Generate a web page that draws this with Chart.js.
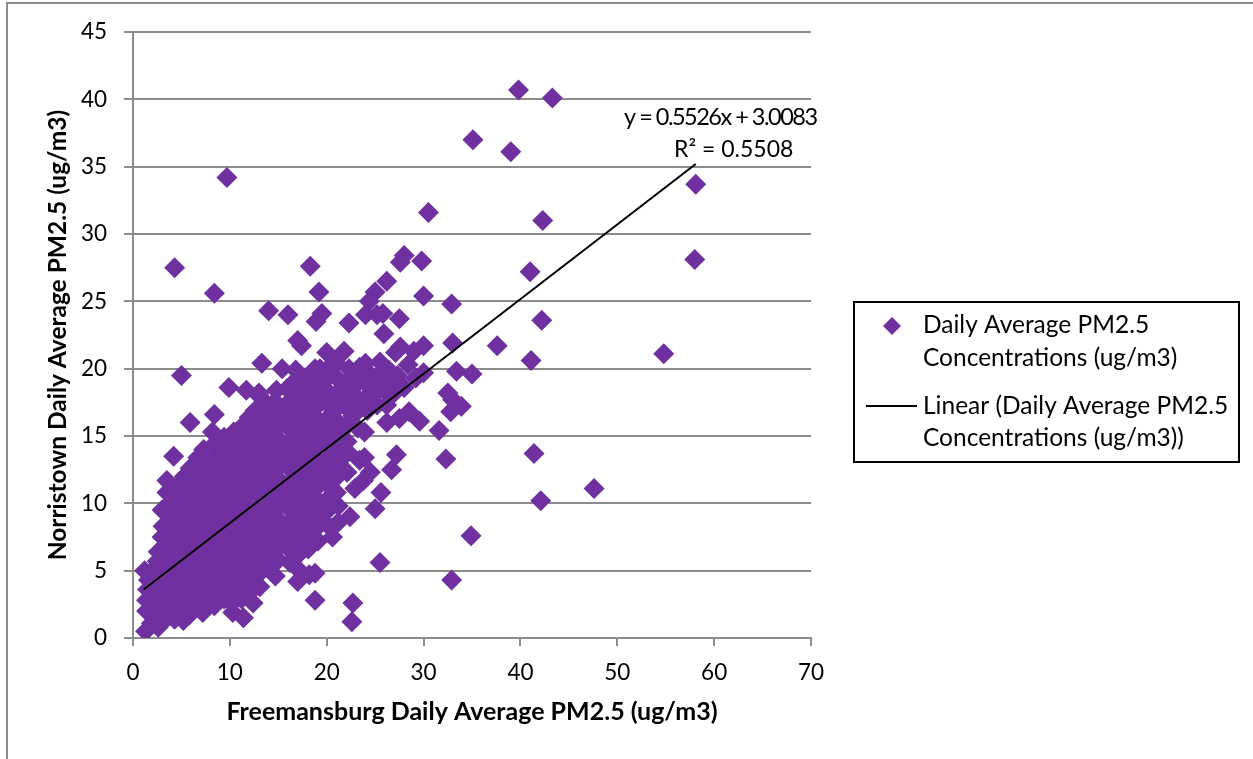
<!DOCTYPE html>
<html>
<head>
<meta charset="utf-8">
<title>PM2.5 scatter</title>
<script src="https://cdn.jsdelivr.net/npm/chart.js@4/dist/chart.umd.js"></script>
<style>
  html, body { margin: 0; padding: 0; background: #fff; overflow: hidden; }
  #frame { position: absolute; left: 6px; top: 2px; right: 0; bottom: 0; border-left: 2px solid #8c8c8c; border-top: 2px solid #8c8c8c; }
  canvas { position: absolute; left: 0; top: 0; }
</style>
</head>
<body>
<div id="frame"></div>
<canvas id="chart" width="1253" height="759"></canvas>
<script>
const xTicks = [0, 10, 20, 30, 40, 50, 60, 70];
const yTicks = [0, 5, 10, 15, 20, 25, 30, 35, 40, 45];

const seriesName = 'Daily Average PM2.5 Concentrations (ug/m3)';
const trendName = 'Linear (Daily Average PM2.5 Concentrations (ug/m3))';
const xTitle = 'Freemansburg Daily Average PM2.5 (ug/m3)';
const yTitle = 'Norristown Daily Average PM2.5 (ug/m3)';
const trendX = [1.1, 58.1];
const trendY = [3.6, 35.2];

// isolated points, [freemansburg, norristown]
const outerPairs = [
  [39.8, 40.7], [43.3, 40.1], [35.1, 37.0], [39.0, 36.1], [9.7, 34.2], [58.1, 33.7], [30.5, 31.6], [42.3, 31.0],
  [58.0, 28.1], [41.0, 27.2], [4.3, 27.5], [8.4, 25.6], [18.3, 27.6], [19.2, 25.7], [28.0, 28.4], [27.6, 27.9],
  [29.8, 28.0], [26.2, 26.5], [30.0, 25.4], [32.9, 24.8], [42.2, 23.6], [14.0, 24.3], [16.0, 24.0], [19.5, 24.1],
  [18.9, 23.5], [22.3, 23.4], [27.5, 23.7], [25.9, 22.6], [33.0, 21.9], [37.6, 21.7], [41.1, 20.6], [54.8, 21.1],
  [13.3, 20.4], [5.0, 19.5], [35.0, 19.6], [33.4, 19.8], [9.9, 18.6], [41.4, 13.7], [47.6, 11.1], [42.1, 10.2],
  [32.3, 13.3], [31.6, 15.4], [34.9, 7.6], [32.9, 4.3], [25.5, 5.6], [22.7, 2.6], [22.6, 1.2], [18.8, 2.8],
  [5.9, 16.0], [8.4, 16.6], [4.2, 13.5], [17.0, 22.1], [17.4, 21.7], [25.0, 25.7], [24.4, 25.0], [24.0, 24.0],
  [25.2, 24.0], [25.8, 24.1], [29.0, 21.3], [30.0, 21.7], [27.6, 21.6], [27.1, 21.2], [28.4, 20.3], [24.0, 20.4],
  [25.5, 20.5], [23.4, 20.1], [21.8, 21.3], [20.0, 21.2], [30.0, 19.7], [29.2, 19.3], [28.0, 18.6], [32.5, 18.2],
  [33.0, 17.7], [33.9, 17.2], [32.8, 16.8], [29.6, 16.1], [28.5, 16.8], [27.5, 16.3], [26.2, 16.0], [26.2, 17.3],
  [20.7, 16.8], [23.9, 15.3], [27.2, 13.6], [26.7, 12.5], [23.9, 13.4], [24.5, 12.3], [23.4, 13.2], [23.8, 11.7],
  [22.9, 11.1], [25.6, 10.8], [25.0, 9.6], [22.4, 9.0], [21.2, 8.6], [20.6, 7.5], [19.5, 14.8], [22.1, 14.6],
  [11.7, 18.4], [13.0, 18.2], [14.8, 18.4], [15.9, 18.5], [16.6, 19.0], [17.7, 19.3], [18.8, 20.0]
];

// the dense cloud, column by column, estimated from the covered area
const cloudPairs = [
  [1.2, 5.0], [1.3, 0.5], [1.4, 2.0], [1.4, 2.8], [1.5, 3.6], [1.6, 4.3],
  [1.9, 1.1], [1.8, 1.8], [2.0, 2.6], [1.9, 3.4], [2.1, 4.2], [2.0, 5.0],
  [2.6, 0.8], [2.5, 1.7], [2.4, 2.5], [2.6, 3.3], [2.5, 4.1], [2.7, 4.9], [2.5, 5.7], [2.6, 6.4],
  [3.1, 1.3], [3.0, 2.2], [3.2, 3.1], [3.1, 4.0], [3.0, 4.9], [3.2, 5.8], [3.1, 6.7], [3.0, 7.5], [3.1, 8.3], [3.0, 9.5],
  [3.7, 1.6], [3.6, 2.6], [3.8, 3.6], [3.6, 4.6], [3.7, 5.6], [3.8, 6.6], [3.6, 7.6], [3.7, 8.5], [3.5, 9.8], [3.5, 10.8], [3.5, 11.7],
  [4.3, 1.4], [4.2, 2.3], [4.4, 3.3], [4.3, 4.3], [4.2, 5.3], [4.4, 6.3], [4.3, 7.3], [4.2, 8.3], [4.4, 9.3], [4.3, 10.2], [4.5, 11.2],
  [5.2, 1.3], [4.9, 2.1], [5.0, 3.0], [5.1, 4.0], [4.9, 5.0], [5.0, 6.0], [5.2, 7.0], [5.0, 8.0], [4.9, 9.0], [5.1, 10.0], [5.0, 11.0], [5.3, 12.0],
  [5.8, 1.7], [5.7, 2.8], [5.9, 3.8], [5.8, 4.8], [5.7, 5.8], [5.9, 6.8], [5.8, 7.8], [5.7, 8.8], [5.9, 9.8], [5.8, 10.8], [5.7, 11.8], [5.9, 12.6],
  [7.2, 1.9], [6.6, 2.4], [6.7, 3.4], [6.6, 4.4], [6.8, 5.4], [6.6, 6.4], [6.7, 7.4], [6.8, 8.4], [6.6, 9.4], [6.7, 10.4], [6.8, 11.4], [6.6, 12.4], [6.7, 13.4],
  [7.6, 2.9], [7.5, 3.9], [7.7, 4.9], [7.5, 5.9], [7.6, 6.9], [7.7, 7.9], [7.5, 8.9], [7.6, 9.9], [7.7, 10.9], [7.5, 11.9], [7.6, 12.9], [7.3, 14.0],
  [8.4, 2.4], [8.5, 3.4], [8.6, 4.4], [8.4, 5.4], [8.5, 6.4], [8.6, 7.4], [8.4, 8.4], [8.5, 9.4], [8.6, 10.4], [8.4, 11.4], [8.5, 12.4], [8.6, 13.4], [8.4, 14.4], [8.2, 15.3],
  [9.4, 2.9], [9.3, 3.9], [9.5, 4.9], [9.4, 5.9], [9.3, 6.9], [9.5, 7.9], [9.4, 8.9], [9.3, 9.9], [9.5, 10.9], [9.4, 11.9], [9.3, 12.9], [9.5, 13.9], [9.4, 14.9],
  [10.3, 1.9], [10.2, 2.6], [10.4, 3.6], [10.3, 4.6], [10.2, 5.6], [10.4, 6.6], [10.3, 7.6], [10.2, 8.6], [10.4, 9.6], [10.3, 10.6], [10.2, 11.6], [10.4, 12.6], [10.3, 13.6], [10.2, 14.6], [10.4, 15.3],
  [11.4, 1.5], [11.2, 2.9], [11.3, 3.9], [11.2, 4.9], [11.4, 5.9], [11.3, 6.9], [11.2, 7.9], [11.4, 8.9], [11.3, 9.9], [11.2, 10.9], [11.4, 11.9], [11.3, 12.9], [11.2, 13.9], [11.4, 14.9], [11.1, 15.6],
  [12.4, 2.6], [12.1, 3.4], [12.2, 4.4], [12.3, 5.4], [12.1, 6.4], [12.2, 7.4], [12.3, 8.4], [12.1, 9.4], [12.2, 10.4], [12.3, 11.4], [12.1, 12.4], [12.2, 13.4], [12.3, 14.4], [12.1, 15.4], [12.0, 16.4], [12.6, 16.9],
  [13.1, 3.8], [13.2, 4.9], [13.0, 5.9], [13.1, 6.9], [13.2, 7.9], [13.0, 8.9], [13.1, 9.9], [13.2, 10.9], [13.0, 11.9], [13.1, 12.9], [13.2, 13.9], [13.0, 14.9], [13.1, 15.9], [13.2, 16.9], [13.0, 18.0], [13.6, 17.5],
  [14.7, 4.6], [14.0, 5.4], [14.1, 6.4], [14.2, 7.4], [14.0, 8.4], [14.1, 9.4], [14.2, 10.4], [14.0, 11.4], [14.1, 12.4], [14.2, 13.4], [14.0, 14.4], [14.1, 15.4], [14.2, 16.4], [14.3, 17.3],
  [15.0, 5.8], [15.1, 6.8], [15.2, 7.8], [15.0, 8.8], [15.1, 9.8], [15.2, 10.8], [15.0, 11.8], [15.1, 12.8], [15.2, 13.8], [15.0, 14.8], [15.1, 15.8], [15.2, 16.7], [15.0, 17.3], [15.4, 20.0],
  [16.2, 5.6], [16.1, 6.6], [16.0, 7.6], [16.2, 8.6], [16.1, 9.6], [16.0, 10.6], [16.2, 11.6], [16.1, 12.6], [16.0, 13.6], [16.2, 14.6], [16.1, 15.6], [16.0, 16.6], [16.2, 17.6], [16.8, 19.9],
  [17.0, 4.2], [17.2, 5.0], [17.1, 6.2], [17.0, 7.2], [17.2, 8.2], [17.1, 9.2], [17.0, 10.2], [17.2, 11.2], [17.1, 12.2], [17.0, 13.2], [17.2, 14.2], [17.1, 15.2], [17.0, 16.2], [17.2, 17.2], [17.1, 18.2],
  [18.2, 4.7], [18.8, 4.8], [18.1, 6.6], [18.0, 7.6], [18.2, 8.6], [18.1, 9.6], [18.0, 10.6], [18.2, 11.6], [18.1, 12.6], [18.0, 13.6], [18.2, 14.6], [18.1, 15.6], [18.0, 16.6], [18.2, 17.6], [18.1, 18.6], [18.4, 19.6],
  [19.1, 7.2], [19.0, 8.2], [19.2, 9.2], [19.1, 10.2], [19.0, 11.2], [19.2, 12.2], [19.1, 13.2], [19.0, 14.2], [19.2, 15.2], [19.1, 16.2], [19.0, 17.2], [19.2, 18.2], [19.1, 19.2], [19.3, 20.0],
  [20.1, 8.4], [20.0, 9.4], [20.2, 10.4], [20.1, 11.4], [20.0, 12.4], [20.2, 13.4], [20.1, 14.4], [20.0, 15.4], [20.2, 16.4], [20.1, 17.4], [20.0, 18.4], [20.2, 19.4], [20.4, 20.2],
  [21.2, 9.8], [21.0, 10.8], [21.1, 12.0], [21.2, 13.0], [21.0, 14.0], [21.1, 15.0], [21.2, 16.0], [21.0, 17.2], [21.1, 18.2], [21.2, 19.2], [21.0, 20.4],
  [21.6, 15.5], [21.5, 17.7], [22.7, 16.5], [22.6, 18.5], [22.8, 17.5], [23.6, 17.3], [23.7, 19.2], [24.7, 18.4], [24.7, 19.4], [25.7, 18.8], [25.8, 19.8], [26.7, 18.0], [26.8, 19.3],
  [22.1, 12.3], [22.2, 13.8], [22.0, 15.7], [22.2, 17.0], [22.1, 18.0], [22.0, 19.0], [22.3, 20.0],
  [23.2, 15.6], [23.1, 16.8], [23.2, 17.8], [23.0, 18.8], [23.2, 19.6],
  [24.2, 16.9], [24.1, 17.9], [24.3, 18.8], [24.2, 19.7],
  [25.2, 17.3], [25.1, 18.2], [25.3, 19.2],
  [26.2, 18.2], [26.1, 19.2], [26.4, 19.9],
  [27.2, 18.6], [27.3, 19.5]
];

const allPairs = cloudPairs.concat(outerPairs);

// draws the boxed legend and the trendline equation where Excel had them
const sideText = {
  id: 'sideText',
  afterDraw(chart) {
    const ctx = chart.ctx;
    ctx.save();
    ctx.strokeStyle = '#000';
    ctx.lineWidth = 2;
    ctx.strokeRect(854, 302, 385, 160);
    ctx.fillStyle = '#7030A0';
    ctx.beginPath();
    ctx.moveTo(892, 317);
    ctx.lineTo(901, 326);
    ctx.lineTo(892, 335);
    ctx.lineTo(883, 326);
    ctx.closePath();
    ctx.fill();
    ctx.strokeStyle = '#000';
    ctx.beginPath();
    ctx.moveTo(866, 406);
    ctx.lineTo(917, 406);
    ctx.stroke();
    ctx.fillStyle = '#000';
    ctx.font = '24.5px Lato';
    ctx.textBaseline = 'middle';
    ctx.textAlign = 'left';
    ctx.fillText('Daily Average PM2.5', 923, 325);
    ctx.fillText('Concentrations (ug/m3)', 923, 358);
    ctx.fillText('Linear (Daily Average PM2.5', 923, 406);
    ctx.fillText('Concentrations (ug/m3))', 923, 438);
    ctx.font = '23.5px Lato';
    ctx.letterSpacing = '-1.5px';
    ctx.fillText('y = 0.5526x + 3.0083', 624, 117);
    ctx.letterSpacing = '0px';
    ctx.font = '23px Lato';
    ctx.fillText('R² = 0.5508', 674, 150);
    ctx.restore();
  }
};

new Chart(document.getElementById('chart'), {
  type: 'scatter',
  data: {
    datasets: [
      {
        label: seriesName,
        data: allPairs.map(p => ({ x: p[0], y: p[1] })),
        pointStyle: 'rectRot',
        pointRadius: 10.5,
        pointBorderWidth: 0,
        backgroundColor: '#7030A0',
        order: 2
      },
      {
        type: 'line',
        label: trendName,
        data: trendX.map((x, i) => ({ x: x, y: trendY[i] })),
        borderColor: '#000',
        borderWidth: 2,
        pointRadius: 0,
        fill: false,
        order: 1
      }
    ]
  },
  options: {
    responsive: false,
    animation: false,
    layout: { padding: { top: 32, right: 442, left: 0, bottom: 0 } },
    plugins: { legend: { display: false }, tooltip: { enabled: false } },
    scales: {
      x: {
        type: 'linear',
        min: 0,
        max: 70,
        afterFit: s => { s.height = 121; },
        afterBuildTicks: s => { s.ticks = xTicks.map(v => ({ value: v })); },
        grid: { drawOnChartArea: false, color: '#8c8c8c', lineWidth: 2, tickLength: 8 },
        border: { color: '#8c8c8c', width: 2 },
        ticks: { color: '#000', font: { family: 'Lato', size: 22.5 }, padding: 13, maxRotation: 0 },
        title: { display: true, text: xTitle, color: '#000', font: { family: 'Lato', size: 25, weight: 'bold' }, padding: { top: 0, bottom: 32 } }
      },
      y: {
        min: 0,
        max: 45,
        afterFit: s => { s.width = 133; },
        afterBuildTicks: s => { s.ticks = yTicks.map(v => ({ value: v })); },
        grid: { color: '#8c8c8c', lineWidth: 2, tickLength: 9 },
        border: { color: '#8c8c8c', width: 2 },
        ticks: { color: '#000', font: { family: 'Lato', size: 22.5 }, padding: 17 },
        title: { display: true, text: yTitle, color: '#000', font: { family: 'Lato', size: 24.5, weight: 'bold' }, padding: { top: 43, bottom: 0 } }
      }
    }
  },
  plugins: [sideText]
});
</script>
</body>
</html>
